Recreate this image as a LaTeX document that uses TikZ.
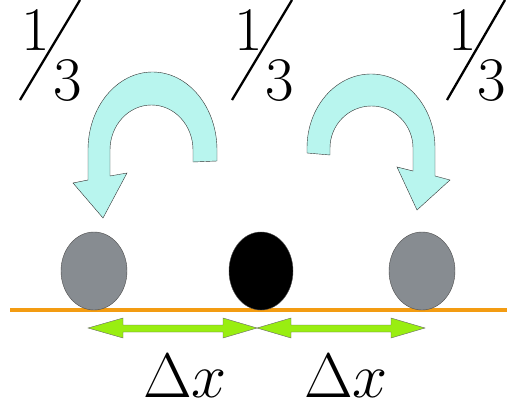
\RequirePackage{fix-cm}
\documentclass[tikz,border=0pt]{standalone}
\usetikzlibrary{shapes.geometric}
\definecolor{lineorange}{HTML}{F39C12}
\definecolor{ballgray}{HTML}{878C91}
\definecolor{arrowcyan}{HTML}{B8F5EE}
\definecolor{limegreen}{HTML}{99EE11}
\begin{document}
\begin{tikzpicture}[x=1pt, y=-1pt,
    ball/.style={ellipse, draw=black!70, thin, inner sep=0pt, minimum width=66pt, minimum height=78pt},
    digit/.style={font=\fontsize{62}{62}\selectfont, inner sep=0pt, anchor=base},
    deltalabel/.style={font=\fontsize{63}{63}\selectfont, inner sep=0pt, anchor=base},
    turn/.style={fill=arrowcyan, draw=black!80, thin},
    span/.style={fill=limegreen, draw=black!60, thin}]
    \useasboundingbox (0,0) rectangle (507,407);

    % ground line
    \draw[lineorange, line width=4pt] (10,310) -- (507,310);

    % balls
    \node[ball, fill=ballgray] (leftball) at (94,271) {};
    \node[ball, fill=black, minimum width=64pt] (midball) at (261,271) {};
    \node[ball, fill=ballgray] (rightball) at (422,271) {};

    % probabilities 1/3
    \node[digit] (onea) at (36,50) {1};
    \node[digit] (threea) at (68,100) {3};
    \draw[line width=2.3pt] (20,100) -- (80,0);
    \node[digit] (oneb) at (249,50) {1};
    \node[digit] (threeb) at (280,100) {3};
    \draw[line width=2.3pt] (232,100) -- (292,0);
    \node[digit] (onec) at (463,50) {1};
    \node[digit] (threec) at (492,100) {3};
    \draw[line width=2.3pt] (447,100) -- (505,0);

    % jump to the left
    \filldraw[turn] (193,162) -- (193,150)
      arc[start angle=0, end angle=-180, x radius=41.5, y radius=45]
      -- (110,176) -- (127,173) -- (103,218) -- (73,183) -- (88,180) -- (88,150)
      arc[start angle=180, end angle=360, x radius=64.5, y radius=78]
      -- (217,161) -- cycle;

    % jump to the right
    \filldraw[turn] (330,155) -- (330,148)
      arc[start angle=180, end angle=360, x radius=41.5, y radius=42]
      -- (413,171) -- (397,167) -- (417,210) -- (450,180) -- (435,176) -- (435,148)
      arc[start angle=0, end angle=-180, x radius=64, y radius=74]
      -- (307,153) -- cycle;

    % spacing arrows
    \filldraw[span] (88,328) -- (123,318) -- (123,325) -- (223,325) -- (223,318) -- (257,328)
      -- (223,338) -- (223,332) -- (123,332) -- (123,338) -- cycle;
    \filldraw[span] (257,328) -- (291,318) -- (291,325) -- (391,325) -- (391,318) -- (425,328)
      -- (391,338) -- (391,332) -- (291,332) -- (291,338) -- cycle;

    % labels
    \node[deltalabel] (dxleft) at (185,397) {$\Delta x$};
    \node[deltalabel] (dxright) at (346,397) {$\Delta x$};
\end{tikzpicture}
\end{document}
